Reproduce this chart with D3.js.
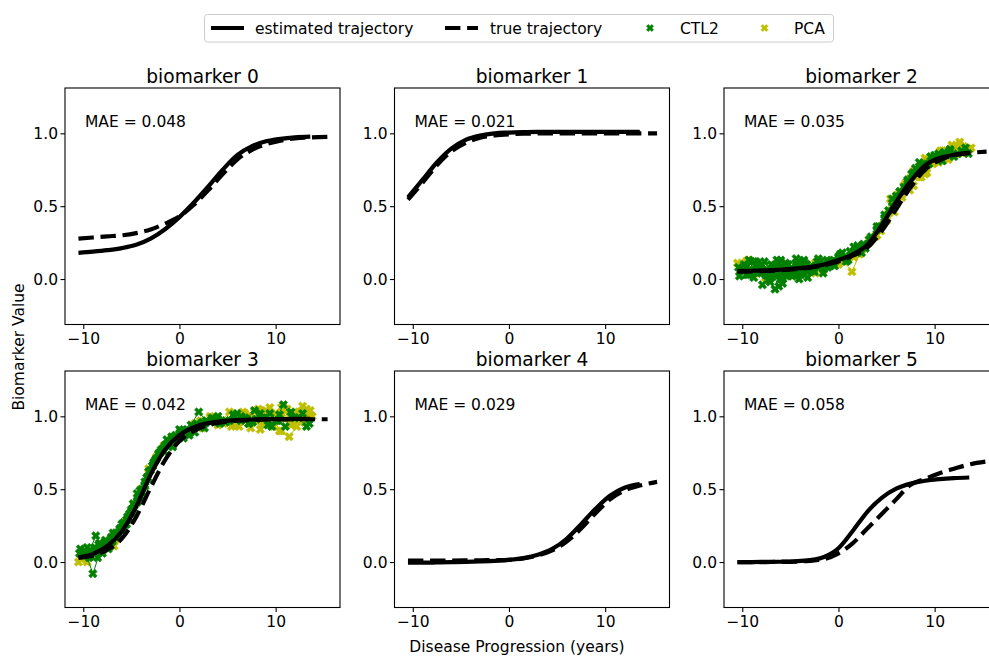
<!DOCTYPE html>
<html><head><meta charset="utf-8">
<script src="https://cdn.jsdelivr.net/npm/d3@7"></script>
<style>body{margin:0;background:#fff;} svg{display:block;font-family:"DejaVu Sans",sans-serif;}</style>
</head><body>
<svg id="c" width="989" height="660"></svg>
<script>
// ---------------- data ----------------
const panelTitles = ["biomarker 0","biomarker 1","biomarker 2","biomarker 3","biomarker 4","biomarker 5"];
const maeLabels = ["MAE = 0.048","MAE = 0.021","MAE = 0.035","MAE = 0.042","MAE = 0.029","MAE = 0.058"];
const xTicks = [-10, 0, 10];
const yTicks = [0.0, 0.5, 1.0];

const estX  = [-10.5,-9,-7.5,-6,-4.5,-3,-1.5,0,1.5,3,4.5,6,7.5,9,10.5,12,13.6];
const trueX = [-10.5,-9,-7.5,-6,-4.5,-3,-1.5,0,1.5,3,4.5,6,7.5,9,10.5,12,13.6,15.4];

const est0  = [0.18,0.188,0.198,0.212,0.235,0.277,0.342,0.425,0.525,0.635,0.75,0.85,0.91,0.945,0.962,0.972,0.977];
const true0 = [0.277,0.285,0.293,0.30,0.315,0.34,0.38,0.43,0.51,0.61,0.72,0.82,0.885,0.925,0.95,0.965,0.972,0.975];
const est1  = [0.56,0.68,0.80,0.895,0.955,0.985,1.0,1.005,1.008,1.01,1.01,1.01,1.01,1.01,1.01,1.01,1.01];
const true1 = [0.545,0.66,0.78,0.875,0.935,0.97,0.985,0.993,0.997,0.999,1.0,1.0,1.0,1.0,1.0,1.0,1.0,1.0];
const est2  = [0.055,0.057,0.06,0.065,0.072,0.082,0.10,0.13,0.17,0.235,0.37,0.53,0.67,0.78,0.83,0.852,0.868];
const true2 = [0.05,0.052,0.055,0.06,0.067,0.077,0.095,0.12,0.16,0.215,0.33,0.48,0.63,0.75,0.815,0.85,0.865,0.875];
const est3  = [0.032,0.055,0.11,0.21,0.38,0.60,0.77,0.87,0.925,0.953,0.967,0.974,0.978,0.98,0.981,0.982,0.982];
const true3 = [0.028,0.045,0.085,0.16,0.31,0.51,0.70,0.83,0.90,0.94,0.96,0.97,0.975,0.978,0.979,0.98,0.98,0.98];
const est4  = [-0.005,-0.004,-0.003,-0.001,0.001,0.004,0.008,0.015,0.027,0.05,0.09,0.16,0.26,0.365,0.455,0.51,0.535];
const true4 = [0.01,0.01,0.01,0.01,0.011,0.012,0.013,0.015,0.025,0.045,0.08,0.14,0.23,0.335,0.43,0.49,0.525,0.55];
const est5  = [0.0,0.0,0.001,0.002,0.005,0.013,0.035,0.095,0.215,0.345,0.44,0.503,0.538,0.558,0.569,0.576,0.58];
const true5 = [0.0,0.0,0.0,0.001,0.003,0.008,0.02,0.06,0.13,0.23,0.33,0.43,0.53,0.57,0.61,0.64,0.67,0.69];

// subjects: visit times and observed values for biomarkers 2 and 3
const ctl2Times = [[-10.3,-9.5,-8.7],[-9.8,-9.0,-8.1],[-9.2,-8.4,-7.6],[-8.8,-8.0,-7.1],[-8.3,-7.4,-6.6],[-7.7,-6.9,-6.0],[-7.2,-6.3,-5.5],[-6.6,-5.8,-5.0],[-6.1,-5.3,-4.4],[-5.5,-4.7,-3.9],[-5.0,-4.1,-3.3],[-4.4,-3.6,-2.8],[-3.9,-3.0,-2.2],[-3.3,-2.5,-1.7],[-2.7,-1.9,-1.1],[-2.1,-1.3,-0.5],[-1.5,-0.7,0.1],[-0.8,0.0,0.8],[0.2,1.0,1.8],[1.2,2.0,2.8],[2.6,3.4,4.2],[4.0,4.8,5.6],[5.2,6.0,6.8],[6.4,7.2,8.0],[7.6,8.4,9.2],[8.8,9.6,10.4],[10.0,10.8,11.6],[11.6,12.4,13.2],[-10.0,-9.3,-8.5],[-8.0,-7.2,-6.4],[-6.8,-6.0,-5.2],[-4.8,-4.0,-3.2],
  [-10.4,-9.6,-8.8],[-9.4,-8.6,-7.8],[-8.6,-7.8,-7.0],[-7.9,-7.0,-6.2],[-7.0,-6.2,-5.4],[-6.4,-5.6,-4.8],[-5.8,-5.0,-4.2],[-5.2,-4.4,-3.6],[-4.2,-3.4,-2.6],[-3.6,-2.8,-2.0],[-2.4,-1.6,-0.8],[-1.2,-0.4,0.4],[0.8,1.6,2.4],[3.2,4.0,4.8],[5.6,6.4,7.2],[7.0,7.8,8.6],[9.4,10.2,11.0],[12.0,12.8,13.5]];
const ctl2Bio2 = [[0.02,0.09,0.05],[0.10,0.04,0.08],[0.06,0.11,0.03],[0.01,0.07,-0.02],[0.09,0.02,-0.07],[0.12,0.05,0.00],[0.04,0.10,0.06],[0.08,-0.03,0.03],[0.02,0.07,0.11],[0.11,0.04,0.08],[0.06,0.00,0.05],[0.09,0.13,0.07],[0.03,0.08,0.12],[0.10,0.05,0.09],[0.06,0.12,0.08],[0.14,0.09,0.13],[0.07,0.12,0.16],[0.10,0.15,0.12],[0.17,0.13,0.20],[0.19,0.23,0.21],[0.24,0.29,0.36],[0.34,0.44,0.50],[0.47,0.57,0.63],[0.60,0.68,0.76],[0.72,0.80,0.79],[0.76,0.84,0.86],[0.85,0.81,0.89],[0.88,0.86,0.90],[0.07,0.13,0.06],[0.04,0.00,0.03],[0.09,0.13,0.07],[0.02,0.06,0.01],
  [0.08,0.03,0.12],[0.03,0.09,0.05],[0.12,0.06,0.10],[-0.04,0.01,0.08],[0.06,-0.05,0.02],[0.13,0.08,0.04],[0.00,0.05,0.12],[0.10,0.14,0.06],[0.04,0.10,0.07],[0.12,0.06,0.11],[0.09,0.04,0.10],[0.13,0.09,0.18],[0.14,0.22,0.18],[0.27,0.36,0.42],[0.55,0.60,0.67],[0.62,0.73,0.78],[0.79,0.83,0.87],[0.84,0.88,0.86]];
const ctl2Bio3 = [[0.09,0.05,0.18],[0.07,-0.08,0.10],[0.04,0.12,0.14],[0.10,0.06,0.17],[0.13,0.09,0.20],[0.15,0.20,0.26],[0.11,0.19,0.29],[0.17,0.27,0.36],[0.23,0.30,0.47],[0.26,0.39,0.50],[0.34,0.49,0.58],[0.42,0.55,0.66],[0.48,0.63,0.74],[0.57,0.70,0.78],[0.68,0.77,0.81],[0.75,0.84,0.86],[0.80,0.79,0.89],[0.86,0.91,0.88],[0.90,0.87,0.95],[0.94,1.03,0.97],[0.92,0.99,0.95],[0.98,0.96,1.01],[0.97,1.02,0.99],[1.00,0.95,0.98],[0.96,1.02,0.94],[0.99,0.93,1.01],[0.97,1.08,1.00],[1.03,0.99,0.93],[0.05,0.08,0.03],[0.08,0.14,0.18],[0.19,0.22,0.33],[0.37,0.45,0.62],
  [0.06,0.10,0.07],[0.03,0.08,0.12],[0.07,0.11,0.15],[0.12,0.16,0.22],[0.14,0.23,0.31],[0.18,0.26,0.40],[0.24,0.35,0.44],[0.30,0.41,0.53],[0.45,0.58,0.69],[0.52,0.66,0.75],[0.71,0.76,0.84],[0.82,0.87,0.85],[0.91,0.89,0.96],[0.96,1.00,0.97],[1.01,0.97,0.95],[0.98,1.04,0.99],[1.02,0.97,0.93],[0.99,1.02,0.95]];
const pcaTimes = [[-10.5,-9.7,-8.9],[-9.6,-8.8,-8.0],[-7.5,-6.7,-5.9],[-5.6,-4.8,-4.0],[-4.0,-3.2,-2.4],[-1.6,-0.8,0.0],[0.6,1.4,2.2],[2.4,3.2,4.0],[3.8,4.6,5.4],[5.0,5.8,6.6],[5.8,6.6,7.4],[6.8,7.6,8.4],[7.4,8.2,9.0],[8.4,9.2,10.0],[9.0,9.8,10.6],[9.8,10.6,11.4],[10.6,11.4,12.2],[11.2,12.0,12.8],[11.8,12.6,13.4],[12.2,13.0,13.6],
  [-10.2,-9.4,-8.6],[-8.4,-7.6,-6.8],[-6.4,-5.6,-4.8],[-3.2,-2.4,-1.6],[1.6,2.4,3.2],[4.4,5.2,6.0],[6.2,7.0,7.8],[7.8,8.6,9.4],[8.8,9.6,10.4],[10.2,11.0,11.8],[10.8,11.6,12.4],[12.6,13.2,13.8]];
const pcaBio2 = [[0.11,0.08,0.05],[0.12,0.06,0.09],[0.03,0.07,0.02],[0.08,0.04,0.09],[0.05,0.09,0.04],[0.08,0.12,0.10],[0.12,0.05,0.17],[0.21,0.27,0.30],[0.29,0.37,0.55],[0.40,0.46,0.56],[0.52,0.58,0.61],[0.64,0.67,0.70],[0.69,0.74,0.72],[0.77,0.73,0.80],[0.83,0.79,0.86],[0.81,0.88,0.84],[0.87,0.82,0.91],[0.85,0.89,0.87],[0.90,0.94,0.88],[0.86,0.91,0.89],
  [0.06,0.13,0.04],[0.07,0.01,0.05],[0.10,0.05,0.02],[0.07,0.11,0.06],[0.15,0.20,0.25],[0.33,0.45,0.51],[0.58,0.66,0.64],[0.74,0.70,0.81],[0.75,0.84,0.80],[0.83,0.86,0.92],[0.88,0.84,0.86],[0.92,0.87,0.90]];
const pcaBio3 = [[0.00,0.04,0.07],[0.00,0.09,0.11],[0.10,0.15,0.24],[0.28,0.40,0.48],[0.50,0.62,0.72],[0.79,0.85,0.87],[0.89,0.94,0.97],[0.93,1.00,0.94],[0.99,0.95,0.93],[0.96,1.00,1.03],[0.94,0.98,0.92],[1.02,0.97,1.04],[0.99,1.05,0.96],[0.91,0.97,1.02],[1.04,0.93,0.99],[1.00,1.06,0.95],[0.90,0.86,0.93],[1.05,1.00,1.07],[0.97,1.03,1.01],[1.02,0.96,1.04],
  [0.02,0.05,0.09],[0.07,0.12,0.11],[0.19,0.28,0.36],[0.64,0.71,0.80],[0.95,0.92,0.99],[0.97,1.03,0.95],[0.93,1.00,0.97],[1.03,0.96,1.06],[0.95,1.01,0.90],[0.98,1.04,1.00],[1.06,0.94,1.03],[0.97,1.05,1.00]];

const estimated = [est0, est1, est2, est3, est4, est5];
const truth = [true0, true1, true2, true3, true4, true5];
const scatterByPanel = {2: [ctl2Bio2, pcaBio2], 3: [ctl2Bio3, pcaBio3]};

// ---------------- layout ----------------
const GREEN = "#008000", YELLOW = "#bfbf00";
const FS = 15.5;
const W = 275, H = 236.5;
const lefts = [65, 394.5, 724], tops = [88, 371];
const svg = d3.select("#c");
const x = d3.scaleLinear().domain([-11.9, 16.69]).range([0, W]);
const y = d3.scaleLinear().domain([-0.312, 1.311]).range([H, 0]);

function xMarker(s) {
  const v = [[-1,-3],[-1,-1],[-3,-1],[-3,1],[-1,1],[-1,3],[1,3],[1,1],[3,1],[3,-1],[1,-1],[1,-3]];
  const k = s / 6, r = Math.SQRT1_2;
  return "M" + v.map(([a,b]) => [((a - b) * r * k).toFixed(2), ((a + b) * r * k).toFixed(2)].join(",")).join("L") + "Z";
}
const MARK = xMarker(9);

const line = d3.line().x(d => x(d[0])).y(d => y(d[1])).curve(d3.curveMonotoneX);
const thin = d3.line().x(d => x(d[0])).y(d => y(d[1]));

function drawSubjects(g, times, vals, color) {
  times.forEach((ts, i) => {
    const pts = ts.map((t, j) => [t, vals[i][j]]);
    g.append("path").attr("d", thin(pts)).attr("fill", "none").attr("stroke", color).attr("stroke-width", 1);
    pts.forEach(p => g.append("path").attr("d", MARK)
      .attr("transform", `translate(${x(p[0])},${y(p[1])})`)
      .attr("fill", color).attr("stroke", color).attr("stroke-width", 0.6));
  });
}

panelTitles.forEach((title, i) => {
  const col = i % 3, row = Math.floor(i / 3);
  const g = svg.append("g").attr("transform", `translate(${lefts[col]},${tops[row]})`);

  if (scatterByPanel[i]) {
    const [cv, pv] = scatterByPanel[i];
    drawSubjects(g, pcaTimes, pv, YELLOW);
    drawSubjects(g, ctl2Times, cv, GREEN);
  }

  g.append("path").attr("d", line(estX.map((t, j) => [t, estimated[i][j]])))
    .attr("fill", "none").attr("stroke", "#000").attr("stroke-width", 4.2).attr("stroke-linecap", "butt");
  g.append("path").attr("d", line(trueX.map((t, j) => [t, truth[i][j]])))
    .attr("fill", "none").attr("stroke", "#000").attr("stroke-width", 4.2)
    .attr("stroke-dasharray", "15.4,6.7");

  const xa = g.append("g").attr("transform", `translate(0,${H})`)
    .call(d3.axisBottom(x).tickValues(xTicks).tickSize(4.5).tickPadding(3.5)
      .tickFormat(d => d < 0 ? "\u2212" + Math.abs(d) : String(d)));
  const ya = g.append("g")
    .call(d3.axisLeft(y).tickValues(yTicks).tickSize(4.5).tickPadding(2.5).tickFormat(d3.format(".1f")));
  [xa, ya].forEach(a => {
    a.select(".domain").remove();
    a.attr("font-family", "DejaVu Sans").attr("font-size", FS);
    a.selectAll("line").attr("stroke", "#000").attr("stroke-width", 1.1);
    a.selectAll("text").attr("fill", "#000");
  });

  g.append("rect").attr("x", 0).attr("y", 0).attr("width", W).attr("height", H)
    .attr("fill", "none").attr("stroke", "#000").attr("stroke-width", 1.1);

  g.append("text").attr("x", W / 2).attr("y", -5.5).attr("text-anchor", "middle")
    .attr("font-size", 18.6).attr("fill", "#000").text(title);
  g.append("text").attr("x", 20).attr("y", 38.5).attr("font-size", FS).attr("fill", "#000").text(maeLabels[i]);
});

// axis labels
svg.append("text").attr("x", 517).attr("y", 652).attr("text-anchor", "middle")
  .attr("font-size", FS).attr("fill", "#000").text("Disease Progression (years)");
svg.append("text").attr("transform", "translate(24,347) rotate(-90)").attr("text-anchor", "middle")
  .attr("font-size", FS).attr("fill", "#000").text("Biomarker Value");

// legend
const lg = svg.append("g");
lg.append("rect").attr("x", 204.5).attr("y", 14.5).attr("width", 629).attr("height", 27.5)
  .attr("rx", 3).attr("fill", "#fff").attr("fill-opacity", 0.8).attr("stroke", "#ccc").attr("stroke-width", 1);
const ly = 28, lt = 33.5;
lg.append("line").attr("x1", 211).attr("x2", 244).attr("y1", ly).attr("y2", ly).attr("stroke", "#000").attr("stroke-width", 4.2);
lg.append("text").attr("x", 255).attr("y", lt).attr("font-size", FS).text("estimated trajectory");
lg.append("line").attr("x1", 445).attr("x2", 478).attr("y1", ly).attr("y2", ly).attr("stroke", "#000").attr("stroke-width", 4.2).attr("stroke-dasharray", "15.4,6.7");
lg.append("text").attr("x", 490).attr("y", lt).attr("font-size", FS).text("true trajectory");
lg.append("path").attr("d", xMarker(7.5)).attr("transform", `translate(650,${ly})`).attr("fill", GREEN).attr("stroke", GREEN).attr("stroke-width", 0.6);
lg.append("text").attr("x", 680).attr("y", lt).attr("font-size", FS).text("CTL2");
lg.append("path").attr("d", xMarker(7.5)).attr("transform", `translate(764.5,${ly})`).attr("fill", YELLOW).attr("stroke", YELLOW).attr("stroke-width", 0.6);
lg.append("text").attr("x", 794).attr("y", lt).attr("font-size", FS).text("PCA");
</script>
</body></html>
